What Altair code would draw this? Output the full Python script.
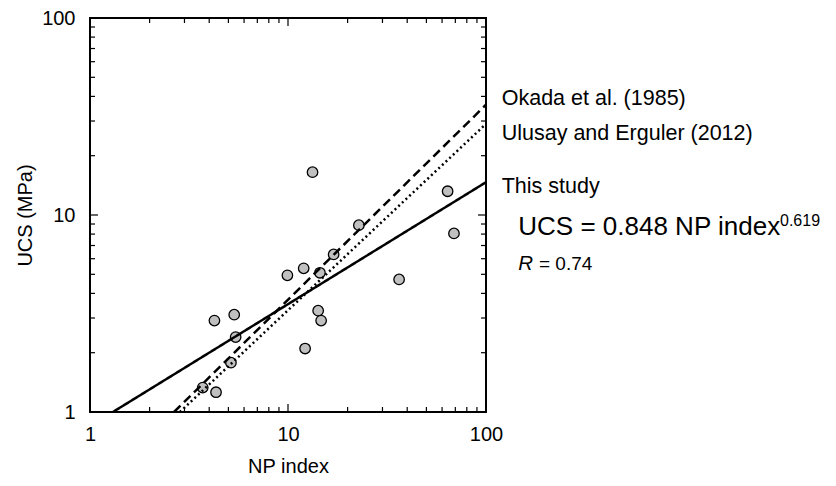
import altair as alt
import pandas as pd

# Measured points
np_index = [13.3, 64.0, 22.8, 68.9, 17.0, 12.0, 9.93, 14.5, 36.4, 5.35, 4.25, 14.2, 14.7, 5.44, 12.2, 5.15, 3.71, 4.33]
ucs = [16.5, 13.2, 8.88, 8.06, 6.31, 5.36, 4.94, 5.09, 4.71, 3.12, 2.91, 3.27, 2.91, 2.40, 2.10, 1.78, 1.33, 1.26]

# Power-law relations UCS = a * NP^b
models = ["Okada et al. (1985)", "Ulusay and Erguler (2012)", "This study"]
coef_a = [0.38, 0.372, 0.848]
coef_b = [0.99, 0.946, 0.619]
dashes = [[9, 5], [2, 3], [1, 0]]

minor_ticks = [2, 3, 4, 5, 6, 7, 8, 9, 20, 30, 40, 50, 60, 70, 80, 90]
major_ticks = [10]
tick_labels = [1, 10, 100]

W, H = 396, 394
FONT = "Liberation Sans"

pts = pd.DataFrame({"np": np_index, "ucs": ucs})

rows = []
for m, a, b in zip(models, coef_a, coef_b):
    x0 = (1.0 / a) ** (1.0 / b)
    for xv in (x0, 100.0):
        rows.append({"model": m, "np": xv, "ucs": a * xv ** b})
lines = pd.DataFrame(rows)

xs = alt.Scale(type="log", domain=[1, 100], nice=False)
ys = alt.Scale(type="log", domain=[1, 100], nice=False)

xaxis = alt.Axis(values=tick_labels, format="d", grid=False, ticks=False, domain=False,
                 labelFlush=False,
                 labelFont=FONT, labelFontSize=20, labelColor="black", labelPadding=12,
                 title="NP index", titleFont=FONT, titleFontSize=20, titleFontWeight="normal",
                 titleColor="black", titlePadding=12)
yaxis = alt.Axis(values=tick_labels, format="d", grid=False, ticks=False, domain=False,
                 labelFlush=False,
                 labelFont=FONT, labelFontSize=20, labelColor="black", labelPadding=15,
                 title="UCS (MPa)", titleFont=FONT, titleFontSize=20, titleFontWeight="normal",
                 titleColor="black", titlePadding=6)

points = alt.Chart(pts).mark_point(filled=True, size=110, fill="#c0c0c0", stroke="black",
                                   strokeWidth=1.3, opacity=1).encode(
    x=alt.X("np:Q", scale=xs, axis=xaxis),
    y=alt.Y("ucs:Q", scale=ys, axis=yaxis),
)

line_layers = []
for m, d in zip(models, dashes):
    line_layers.append(
        alt.Chart(lines[lines.model == m]).mark_line(color="black", strokeWidth=2.5, strokeDash=d).encode(
            x=alt.X("np:Q", scale=xs), y=alt.Y("ucs:Q", scale=ys)
        )
    )

mt = pd.DataFrame({"v": minor_ticks})
Mt = pd.DataFrame({"v": major_ticks})


def tick_layers(df, L):
    base = alt.Chart(df).mark_rule(color="black", strokeWidth=1.2)
    return [
        base.encode(x=alt.X("v:Q", scale=xs), y=alt.value(H), y2=alt.value(H - L)),
        base.encode(x=alt.X("v:Q", scale=xs), y=alt.value(0), y2=alt.value(L)),
        base.encode(y=alt.Y("v:Q", scale=ys), x=alt.value(0), x2=alt.value(L)),
        base.encode(y=alt.Y("v:Q", scale=ys), x=alt.value(W), x2=alt.value(W - L)),
    ]


one = pd.DataFrame({"k": [0]})


def label(text, x, y, size, style="normal"):
    return alt.Chart(one).mark_text(text=text, align="left", baseline="alphabetic", font=FONT,
                                    fontSize=size, fontStyle=style, color="black").encode(
        x=alt.value(x), y=alt.value(y))


texts = [
    label(models[0], 411.7, 86.7, 21.5),
    label(models[1], 411.7, 121.7, 21.5),
    label(models[2], 411.7, 175, 21.5),
    label("UCS = 0.848 NP index", 428.3, 216.7, 26),
    label("0.619", 690, 208.4, 16),
    label("R", 428.3, 251.7, 20.5, "italic"),
    label("= 0.74", 449, 251.7, 19),
]

chart = alt.layer(points, *line_layers, *tick_layers(mt, 5), *tick_layers(Mt, 8), *texts).properties(
    width=W, height=H,
    autosize=alt.AutoSizeParams(type="none"),
    padding={"left": 82, "top": 10, "right": 340, "bottom": 66},
).configure_view(stroke="black", strokeWidth=2)

chart.save("out.html", embed_options={"renderer": "svg", "actions": False})
